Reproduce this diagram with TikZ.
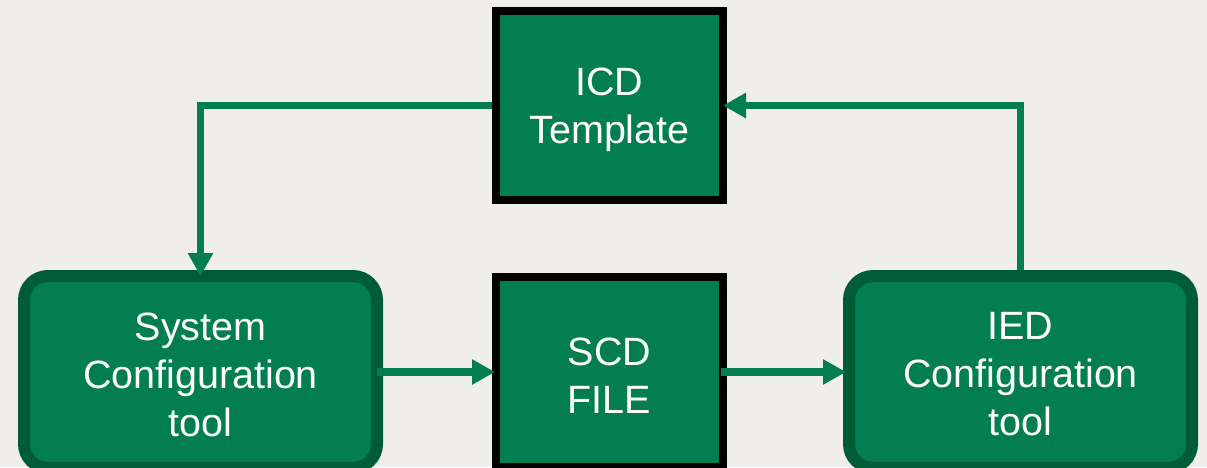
\documentclass[tikz,border=0pt]{standalone}
\usepackage{fontspec}
\setmainfont{Liberation Sans}
\usetikzlibrary{arrows.meta}

\definecolor{bgcol}{RGB}{239,238,234}
\definecolor{boxgreen}{RGB}{2,126,80}
\definecolor{darkgreen}{RGB}{0,92,52}

\tikzset{
  label text/.style={text=white, align=center, font=\fontsize{39.5}{48}\selectfont, yshift=-4.5pt},
  filebox/.style={rectangle, draw=black, line width=8pt, fill=boxgreen},
  toolbox/.style={rectangle, rounded corners=24pt, draw=darkgreen, line width=12pt, fill=boxgreen},
  flow/.style={draw=boxgreen, line width=7.5pt, -{Triangle[length=23pt,width=24pt]}}
}

\begin{document}
\begin{tikzpicture}[x=1pt,y=-1pt]
  % page area and background
  \useasboundingbox (0,0) rectangle (1207,467);
  \fill[bgcol] (0,0) rectangle (1207,467);
  \clip (0,0) rectangle (1207,467);

  % boxes, each with its caption centred inside
  \node[filebox, minimum width=227pt, minimum height=189pt,
        label={[label text]center:{ICD\\Template}}] (icd) at (609.5,105.5) {};
  \node[filebox, minimum width=227pt, minimum height=190pt,
        label={[label text, yshift=1pt]center:{SCD\\FILE}}] (scd) at (609.5,372) {};
  \node[toolbox, minimum width=353pt, minimum height=192pt,
        label={[label text, yshift=2pt]center:{System\\Configuration\\tool}}] (sys) at (200.5,372) {};
  \node[toolbox, minimum width=343pt, minimum height=192pt,
        label={[label text, yshift=2pt]center:{IED\\Configuration\\tool}}] (ied) at (1020.5,372) {};

  % connectors
  \draw[flow, shorten >=-6pt] (icd.west) -| (sys.north);
  \draw[flow, shorten >=-4pt] (ied.north) |- (icd.east);
  \draw[flow, shorten <=-6pt, shorten >=-3pt] (sys.east) -- (scd.west);
  \draw[flow, shorten <=-6pt, shorten >=-3pt] (scd.east) -- (ied.west);
\end{tikzpicture}
\end{document}
